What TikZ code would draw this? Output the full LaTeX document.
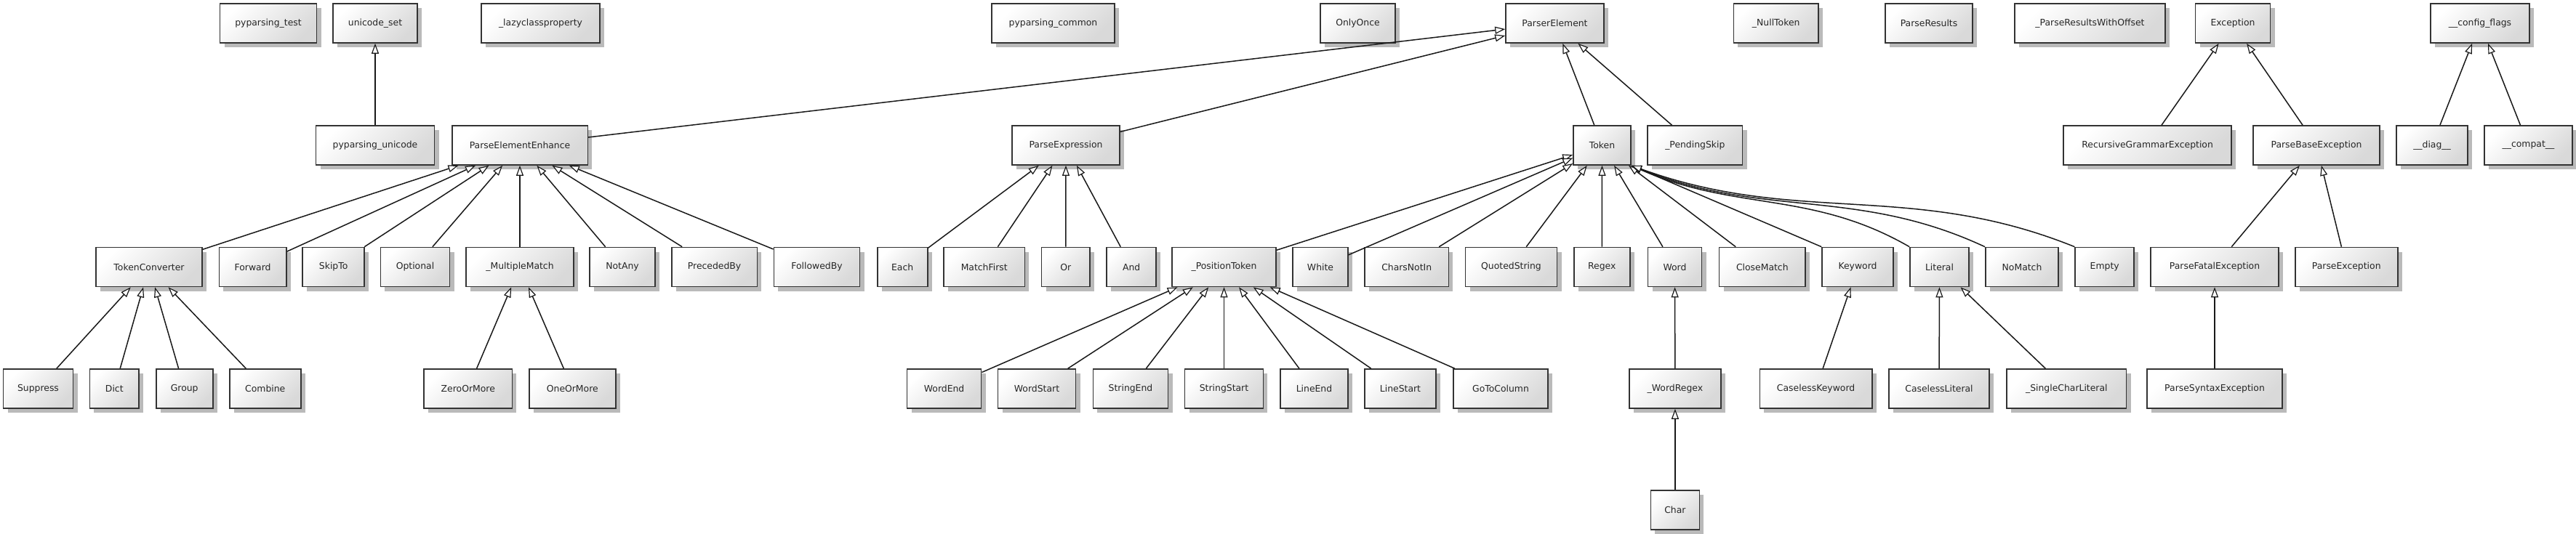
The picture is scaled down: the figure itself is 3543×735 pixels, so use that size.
\documentclass[tikz,border=0pt]{standalone}
\usepackage{fontspec}
\setmainfont{DejaVu Sans}
\usetikzlibrary{arrows.meta,shadows}
\begin{document}
\begin{tikzpicture}[x=1pt,y=-1pt,
  cls/.style={draw=black!80, line width=1.6pt, top color=white, bottom color=black!15, shading angle=45,
    drop shadow={shadow xshift=6pt, shadow yshift=-6pt, fill=black!30, opacity=0.9},
    minimum height=54pt, inner sep=0pt, font=\fontsize{12.4pt}{14pt}\selectfont, text=black!85},
  inh/.style={line width=1.5pt, draw=black!90, -{Triangle[fill=white, length=14pt, width=10pt, line width=1.2pt]}}]
\useasboundingbox (0,0) rectangle (3543,735);
% row 1
\node[cls,minimum width=133pt] (ptest) at (369,32) {pyparsing\_test};
\node[cls,minimum width=116pt] (uset) at (516,32) {unicode\_set};
\node[cls,minimum width=163pt] (lazy) at (743.5,32) {\_lazyclassproperty};
\node[cls,minimum width=169pt] (pcommon) at (1448.5,32) {pyparsing\_common};
\node[cls,minimum width=103pt] (onlyonce) at (1867.5,32) {OnlyOnce};
\node[cls,minimum width=135pt] (pe) at (2138.5,32) {ParserElement};
\node[cls,minimum width=116.5pt] (nulltoken) at (2442.7,32) {\_NullToken};
\node[cls,minimum width=120.5pt] (presults) at (2653,32) {ParseResults};
\node[cls,minimum width=206.5pt] (prwo) at (2874.5,32) {\_ParseResultsWithOffset};
\node[cls,minimum width=103pt] (exc) at (3071,32) {Exception};
\node[cls,minimum width=136pt] (cfg) at (3411,32) {\_\_config\_flags};
% row 2
\node[cls,minimum width=163pt] (punicode) at (516,200) {pyparsing\_unicode};
\node[cls,minimum width=186.6pt] (pee) at (715,200) {ParseElementEnhance};
\node[cls,minimum width=147.6pt] (pexpr) at (1466,200) {ParseExpression};
\node[cls,minimum width=79pt] (token) at (2203.5,200) {Token};
\node[cls,minimum width=130.5pt] (pskip) at (2331.3,200) {\_PendingSkip};
\node[cls,minimum width=230.7pt] (rge) at (2953.6,200) {RecursiveGrammarException};
\node[cls,minimum width=174pt] (pbe) at (3186,200) {ParseBaseException};
\node[cls,minimum width=98.4pt] (diag) at (3345,200) {\_\_diag\_\_};
\node[cls,minimum width=120.6pt] (compat) at (3477.4,200) {\_\_compat\_\_};
% row 3
\node[cls,minimum width=145.8pt] (tconv) at (205,367.5) {TokenConverter};
\node[cls,minimum width=92.4pt] (forward) at (347.6,367.5) {Forward};
\node[cls,minimum width=85pt] (skipto) at (458.7,367.5) {SkipTo};
\node[cls,minimum width=95.3pt] (optional) at (571,367.5) {Optional};
\node[cls,minimum width=147.5pt] (mmatch) at (715,367.5) {\_MultipleMatch};
\node[cls,minimum width=89.5pt] (notany) at (856,367.5) {NotAny};
\node[cls,minimum width=117.6pt] (preceded) at (982.6,367.5) {PrecededBy};
\node[cls,minimum width=118.3pt] (followed) at (1123.5,367.5) {FollowedBy};
\node[cls,minimum width=69pt] (each) at (1241.2,367.5) {Each};
\node[cls,minimum width=111.3pt] (matchfirst) at (1353.7,367.5) {MatchFirst};
\node[cls,minimum width=66.3pt] (or) at (1465.8,367.5) {Or};
\node[cls,minimum width=68pt] (and) at (1556.2,367.5) {And};
\node[cls,minimum width=143.4pt] (ptoken) at (1683.5,367.5) {\_PositionToken};
\node[cls,minimum width=75.5pt] (white) at (1816,367.5) {White};
\node[cls,minimum width=115.2pt] (charsnotin) at (1934.7,367.5) {CharsNotIn};
\node[cls,minimum width=126pt] (quoted) at (2078.5,367.5) {QuotedString};
\node[cls,minimum width=77pt] (regex) at (2203.3,367.5) {Regex};
\node[cls,minimum width=74pt] (word) at (2303.5,367.5) {Word};
\node[cls,minimum width=118.3pt] (closematch) at (2423.8,367.5) {CloseMatch};
\node[cls,minimum width=98pt] (keyword) at (2555,367.5) {Keyword};
\node[cls,minimum width=81pt] (literal) at (2667.5,367.5) {Literal};
\node[cls,minimum width=100.4pt] (nomatch) at (2781,367.5) {NoMatch};
\node[cls,minimum width=81pt] (empty) at (2894.7,367.5) {Empty};
\node[cls,minimum width=175.5pt] (pfe) at (3046,367.5) {ParseFatalException};
\node[cls,minimum width=141pt] (pexc) at (3227.2,367.5) {ParseException};
% row 4
\node[cls,minimum width=96pt] (suppress) at (52.5,535) {Suppress};
\node[cls,minimum width=67.8pt] (dict) at (157.3,535) {Dict};
\node[cls,minimum width=78pt] (group) at (253.7,535) {Group};
\node[cls,minimum width=98pt] (combine) at (364.8,535) {Combine};
\node[cls,minimum width=121.2pt] (zom) at (643.8,535) {ZeroOrMore};
\node[cls,minimum width=119pt] (oom) at (787.3,535) {OneOrMore};
\node[cls,minimum width=102pt] (wordend) at (1298.6,535) {WordEnd};
\node[cls,minimum width=107pt] (wordstart) at (1426,535) {WordStart};
\node[cls,minimum width=103.3pt] (stringend) at (1555,535) {StringEnd};
\node[cls,minimum width=107.8pt] (stringstart) at (1683.5,535) {StringStart};
\node[cls,minimum width=93pt] (lineend) at (1807.5,535) {LineEnd};
\node[cls,minimum width=98.3pt] (linestart) at (1926,535) {LineStart};
\node[cls,minimum width=130pt] (gotocol) at (2064,535) {GoToColumn};
\node[cls,minimum width=126pt] (wregex) at (2303.9,535) {\_WordRegex};
\node[cls,minimum width=154.6pt] (ckeyword) at (2497.6,535) {CaselessKeyword};
\node[cls,minimum width=138pt] (cliteral) at (2667,535) {CaselessLiteral};
\node[cls,minimum width=164.7pt] (scliteral) at (2842.3,535) {\_SingleCharLiteral};
\node[cls,minimum width=186pt] (pse) at (3046,535) {ParseSyntaxException};
% row 5
\node[cls,minimum width=67pt] (char) at (2303.9,702) {Char};
% inheritance
\draw[inh] (punicode) -- (uset);
\draw[inh] (pee) -- (pe);
\draw[inh] (pexpr) -- (pe);
\draw[inh] (token) -- (pe);
\draw[inh] (pskip) -- (pe);
\draw[inh] (rge) -- (exc);
\draw[inh] (pbe) -- (exc);
\draw[inh] (diag) -- (cfg);
\draw[inh] (compat) -- (cfg);
\foreach \c in {tconv,forward,skipto,optional,mmatch,notany,preceded,followed}
  \draw[inh] (\c) -- (pee);
\foreach \c in {each,matchfirst,or,and}
  \draw[inh] (\c) -- (pexpr);
\foreach \c in {ptoken,white,charsnotin,quoted,regex,word,closematch}
  \draw[inh] (\c) -- (token);
\draw[inh] (keyword.north west) -- (token.south east);
\draw[inh] (literal.north west) to[out=150,in=-24] (token.south east);
\draw[inh] (nomatch.north west) to[out=155,in=-22] (token.south east);
\draw[inh] (empty.north west) to[out=158,in=-20] (token.south east);
\foreach \c in {pfe,pexc}
  \draw[inh] (\c) -- (pbe);
\draw[inh] (pse) -- (pfe);
\foreach \c in {suppress,dict,group,combine}
  \draw[inh] (\c) -- (tconv);
\foreach \c in {zom,oom}
  \draw[inh] (\c) -- (mmatch);
\foreach \c in {wordend,wordstart,stringend,stringstart,lineend,linestart,gotocol}
  \draw[inh] (\c) -- (ptoken);
\draw[inh] (wregex) -- (word);
\draw[inh] (char) -- (wregex);
\draw[inh] (ckeyword) -- (keyword);
\draw[inh] (cliteral) -- (literal);
\draw[inh] (scliteral) -- (literal);
\end{tikzpicture}
\end{document}
